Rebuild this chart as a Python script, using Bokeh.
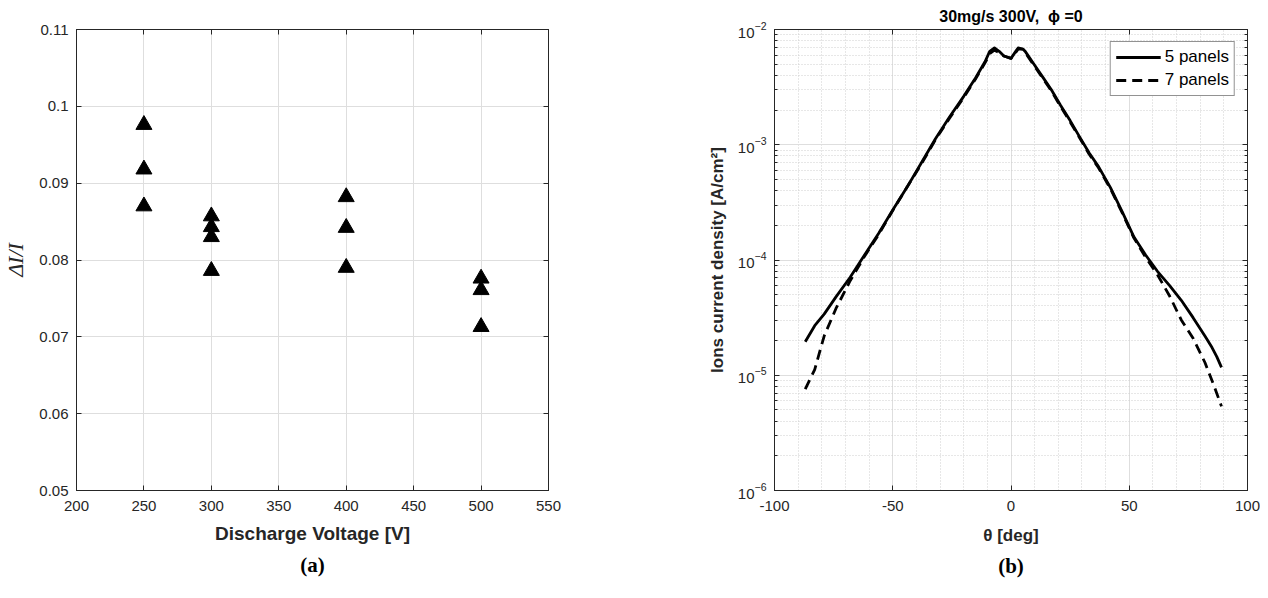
from bokeh.plotting import figure
from bokeh.layouts import row
from bokeh.models import (Range1d, FixedTicker, LinearAxis, Title,
                          Legend, LegendItem)
from bokeh.embed import file_html
from bokeh.resources import INLINE

# ---------------- data: panel (a) ----------------
voltage = [250, 250, 250, 300, 300, 300, 300, 400, 400, 400, 500, 500, 500]
delta_i = [0.0976, 0.0918, 0.0870, 0.0857, 0.0843, 0.0830, 0.0786,
           0.0882, 0.0842, 0.0790, 0.0776, 0.0761, 0.0713]
x_ticks_a = [200, 250, 300, 350, 400, 450, 500, 550]
y_ticks_a = [0.05, 0.06, 0.07, 0.08, 0.09, 0.1, 0.11]
y_labels_a = ["0.05", "0.06", "0.07", "0.08", "0.09", "0.1", "0.11"]

# ---------------- data: panel (b) ----------------
theta_5 = [-87, -83, -79, -74, -68, -62, -56, -50, -44, -38, -32, -26, -20,
           -15, -11, -9, -7, -5, -3, 0, 2, 3, 5, 6, 9, 13, 17, 21, 25, 29,
           33, 37, 42, 47, 52, 57, 62, 67, 72, 77, 82, 85, 87, 89]
j_5 = [1.95e-5, 2.69e-5, 3.39e-5, 4.79e-5, 7.08e-5, 1.10e-4, 1.70e-4,
       2.72e-4, 4.27e-4, 6.92e-4, 1.12e-3, 1.74e-3, 2.63e-3, 3.80e-3,
       5.25e-3, 6.46e-3, 6.92e-3, 6.46e-3, 5.89e-3, 5.62e-3, 6.46e-3,
       6.92e-3, 6.76e-3, 6.46e-3, 5.25e-3, 3.98e-3, 3.02e-3, 2.19e-3,
       1.62e-3, 1.17e-3, 8.51e-4, 6.46e-4, 4.27e-4, 2.63e-4, 1.58e-4,
       1.10e-4, 7.94e-5, 6.03e-5, 4.47e-5, 3.16e-5, 2.19e-5, 1.74e-5,
       1.45e-5, 1.17e-5]
theta_7 = [-87, -83, -79, -74, -68, -62, -56, -50, -44, -38, -32, -26, -20,
           -15, -11, -9, -7, -5, -3, 0, 2, 3, 5, 6, 9, 13, 17, 21, 25, 29,
           33, 37, 42, 47, 52, 57, 62, 67, 72, 77, 82, 86, 89]
j_7 = [7.59e-6, 1.12e-5, 2.19e-5, 3.80e-5, 6.61e-5, 1.07e-4, 1.66e-4,
       2.69e-4, 4.27e-4, 6.76e-4, 1.10e-3, 1.70e-3, 2.57e-3, 3.72e-3,
       5.13e-3, 6.17e-3, 6.61e-3, 6.31e-3, 5.89e-3, 5.62e-3, 6.31e-3,
       6.76e-3, 6.76e-3, 6.31e-3, 5.13e-3, 3.89e-3, 2.95e-3, 2.14e-3,
       1.58e-3, 1.15e-3, 8.32e-4, 6.31e-4, 4.17e-4, 2.57e-4, 1.55e-4,
       1.05e-4, 7.41e-5, 4.90e-5, 3.02e-5, 2.09e-5, 1.29e-5, 7.94e-6,
       5.37e-6]
x_ticks_b = [-100, -50, 0, 50, 100]
x_labels_b = ["-100", "-50", "0", "50", "100"]
x_minor_b = [-90, -80, -70, -60, -40, -30, -20, -10, 10, 20, 30, 40,
             60, 70, 80, 90]
y_ticks_b = [1e-6, 1e-5, 1e-4, 1e-3, 1e-2]
y_minor_b = [m * 10.0 ** e for e in range(-6, -2) for m in range(2, 10)]

FONT = "Liberation Sans"
AX = "#262626"
GRID = "#dedede"
MINOR = "#cfcfcf"


def style_axis(ax, size="15px"):
    ax.axis_line_color = AX
    ax.major_tick_line_color = AX
    ax.minor_tick_line_color = AX
    ax.major_tick_in = 5
    ax.major_tick_out = 0
    ax.minor_tick_in = 0
    ax.minor_tick_out = 0
    ax.major_label_text_font = FONT
    ax.major_label_text_font_size = size
    ax.major_label_text_color = AX
    ax.major_label_standoff = 8


def blank_axis(ax, ticks):
    style_axis(ax)
    ax.major_label_overrides = {t: "" for t in ticks}
    ax.major_label_standoff = 0


def caption(p, txt):
    t = Title(text=txt, align="center", text_font="Liberation Serif",
              text_font_style="bold", text_font_size="21px",
              text_color="black", standoff=8)
    p.add_layout(t, "below")


# ================= panel (a) =================
p1 = figure(width=640, height=598, output_backend="svg", toolbar_location=None,
            x_range=Range1d(200, 550), y_range=Range1d(0.05, 0.11),
            min_border_left=76, min_border_right=92, min_border_top=28,
            min_border_bottom=108)
p1.background_fill_color = "white"
p1.border_fill_color = "white"
p1.outline_line_color = AX

xt_a = FixedTicker(ticks=x_ticks_a)
yt_a = FixedTicker(ticks=y_ticks_a)
p1.xaxis.ticker = xt_a
p1.yaxis.ticker = yt_a
p1.xgrid.ticker = xt_a
p1.ygrid.ticker = yt_a
p1.yaxis.major_label_overrides = dict(zip(y_ticks_a, y_labels_a))
for ax in p1.xaxis + p1.yaxis:
    style_axis(ax)
p1.xaxis.major_label_standoff = 10
p1.grid.grid_line_color = GRID

p1.xaxis.axis_label = "Discharge Voltage [V]"
p1.xaxis.axis_label_text_font = FONT
p1.xaxis.axis_label_text_font_style = "bold"
p1.xaxis.axis_label_text_font_size = "19px"
p1.xaxis.axis_label_text_color = AX
p1.xaxis.axis_label_standoff = 9

p1.yaxis.axis_label = "ΔI/I"
p1.yaxis.axis_label_text_font = "Liberation Serif"
p1.yaxis.axis_label_text_font_style = "italic"
p1.yaxis.axis_label_text_font_size = "22px"
p1.yaxis.axis_label_text_color = AX
p1.yaxis.axis_label_standoff = 8

ra = LinearAxis(ticker=xt_a)
blank_axis(ra, x_ticks_a)
p1.add_layout(ra, "above")
rr = LinearAxis(ticker=yt_a)
blank_axis(rr, y_ticks_a)
p1.add_layout(rr, "right")

p1.scatter(voltage, delta_i, marker="triangle", size=16, fill_color="black",
           line_color="black")

caption(p1, "(a)")

# ================= panel (b) =================
p2 = figure(width=620, height=598, output_backend="svg", toolbar_location=None,
            x_range=Range1d(-100, 100), y_range=Range1d(1e-6, 1e-2),
            y_axis_type="log",
            min_border_left=134, min_border_right=13, min_border_top=28,
            min_border_bottom=108)
p2.background_fill_color = "white"
p2.border_fill_color = "white"
p2.outline_line_color = AX

p2.title.text = "30mg/s 300V,\u00a0\u00a0\u03d5 =0"
p2.title.align = "center"
p2.title.text_font = FONT
p2.title.text_font_style = "bold"
p2.title.text_font_size = "16px"
p2.title.text_color = "black"
p2.title.standoff = 10

xt_b = FixedTicker(ticks=x_ticks_b, minor_ticks=x_minor_b)
yt_b = FixedTicker(ticks=y_ticks_b, minor_ticks=y_minor_b)
p2.xaxis.ticker = xt_b
p2.yaxis.ticker = yt_b
p2.xgrid.ticker = xt_b
p2.ygrid.ticker = yt_b
p2.xaxis.major_label_overrides = dict(zip(x_ticks_b, x_labels_b))
for ax in p2.xaxis + p2.yaxis:
    style_axis(ax)
p2.xaxis.major_label_standoff = 10
p2.yaxis.minor_tick_in = 3
p2.grid.grid_line_color = GRID
p2.grid.minor_grid_line_color = MINOR
p2.grid.minor_grid_line_dash = "1 2"

p2.xaxis.axis_label = "θ [deg]"
p2.xaxis.axis_label_text_font = FONT
p2.xaxis.axis_label_text_font_style = "bold"
p2.xaxis.axis_label_text_font_size = "17px"
p2.xaxis.axis_label_text_color = AX
p2.xaxis.axis_label_standoff = 12

p2.yaxis.axis_label = "Ions current density [A/cm²]"
p2.yaxis.axis_label_text_font = FONT
p2.yaxis.axis_label_text_font_style = "bold"
p2.yaxis.axis_label_text_font_size = "17px"
p2.yaxis.axis_label_text_color = AX
p2.yaxis.axis_label_standoff = 8

ta = LinearAxis(ticker=xt_b)
blank_axis(ta, x_ticks_b)
p2.add_layout(ta, "above")
tr = LinearAxis(ticker=yt_b)
blank_axis(tr, y_ticks_b)
tr.minor_tick_in = 3
p2.add_layout(tr, "right")

r5 = p2.line(theta_5, j_5, line_color="black", line_width=2.8,
             line_join="round")
r7 = p2.line(theta_7, j_7, line_color="black", line_width=2.8,
             line_dash="10 6", line_join="round")

legend = Legend(items=[LegendItem(label="5 panels", renderers=[r5]),
                       LegendItem(label="7 panels", renderers=[r7])],
                location="top_right")
legend.margin = 12
legend.padding = 5
legend.spacing = 3
legend.glyph_width = 45
legend.glyph_height = 20
legend.label_standoff = 4
legend.label_text_font = FONT
legend.label_text_font_size = "17px"
legend.label_text_color = "black"
legend.border_line_color = AX
legend.border_line_width = 1
legend.background_fill_color = "white"
legend.background_fill_alpha = 1.0
p2.add_layout(legend)

caption(p2, "(b)")

layout = row(p1, p2)
open("out.html", "w").write(file_html(layout, INLINE))
